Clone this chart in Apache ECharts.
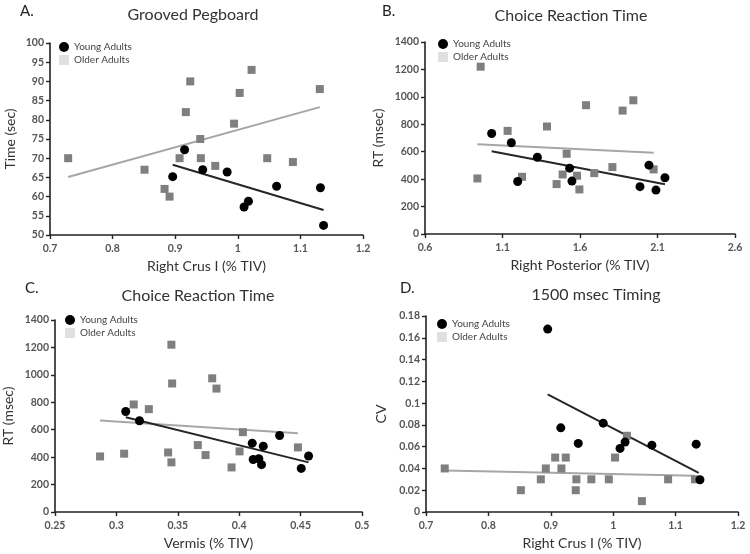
<!DOCTYPE html>
<html>
<head>
<meta charset="utf-8">
<script src="https://cdn.jsdelivr.net/npm/echarts@6/dist/echarts.min.js"></script>
<style>html,body{margin:0;padding:0;background:#fff}#c{width:750px;height:554px}</style>
</head>
<body>
<div id="c"></div>
<script>
// Panel A: Grooved Pegboard vs Right Crus I
const aYoung = [[0.896,65.2],[0.915,72.2],[0.944,67],[0.983,66.4],[1.010,57.3],[1.017,58.8],[1.062,62.7],[1.132,62.3],[1.137,52.5]];
const aOlder = [[0.729,70],[0.851,67],[0.883,62],[0.891,60],[0.907,70],[0.917,82],[0.924,90],[0.940,75],[0.941,70],[0.964,68],[0.994,79],[1.003,87],[1.022,93],[1.047,70],[1.088,69],[1.131,88]];
const aYoungFit = [[0.896,68.3],[1.137,56.5]];
const aOlderFit = [[0.729,65.1],[1.131,83.3]];

// Panel B: Choice RT vs Right Posterior
const bYoung = [[1.030,733],[1.157,665],[1.198,383],[1.325,560],[1.533,480],[1.548,386],[1.987,345],[2.045,502],[2.090,320],[2.148,410]];
const bOlder = [[0.959,1220],[0.938,405],[1.133,752],[1.226,417],[1.387,784],[1.449,364],[1.488,434],[1.514,585],[1.581,425],[1.596,325],[1.639,939],[1.692,444],[1.809,488],[1.875,900],[1.944,975],[2.075,471]];
const bYoungFit = [[1.030,604],[2.148,362]];
const bOlderFit = [[0.938,655],[2.075,592]];

// Panel C: Choice RT vs Vermis
const cYoung = [[0.3076,733],[0.3188,665],[0.4106,502],[0.4114,383],[0.416,388],[0.4182,345],[0.4196,480],[0.4329,558],[0.4505,318],[0.4565,408]];
const cOlder = [[0.2867,405],[0.3063,425],[0.3141,784],[0.3264,750],[0.3421,434],[0.3448,362],[0.3448,1220],[0.3454,937],[0.3663,488],[0.3726,415],[0.378,975],[0.3815,900],[0.3938,325],[0.4003,442],[0.403,582],[0.4478,471]];
const cYoungFit = [[0.3076,691],[0.4565,362]];
const cOlderFit = [[0.2867,667],[0.4478,575]];

// Panel D: 1500 msec Timing CV vs Right Crus I
const dYoung = [[0.895,0.168],[0.916,0.0773],[0.944,0.063],[0.984,0.0816],[1.011,0.0584],[1.019,0.0642],[1.062,0.0614],[1.133,0.0623],[1.139,0.0296]];
const dOlder = [[0.730,0.04],[0.852,0.02],[0.884,0.03],[0.892,0.04],[0.907,0.05],[0.917,0.04],[0.924,0.05],[0.941,0.03],[0.940,0.02],[0.965,0.03],[0.993,0.03],[1.003,0.05],[1.022,0.07],[1.046,0.01],[1.088,0.03],[1.131,0.03]];
const dYoungFit = [[0.895,0.108],[1.137,0.036]];
const dOlderFit = [[0.730,0.0382],[1.131,0.0333]];

const titles = ['Grooved Pegboard','Choice Reaction Time','Choice Reaction Time','1500 msec Timing'];
const panelLabels = ['A.','B.','C.','D.'];
const xNames = ['Right Crus I (% TIV)','Right Posterior (% TIV)','Vermis (% TIV)','Right Crus I (% TIV)'];
const yNames = ['Time (sec)','RT (msec)','RT (msec)','CV'];
const xRanges = [[0.7,1.2,0.1],[0.6,2.6,0.5],[0.25,0.5,0.05],[0.7,1.2,0.1]];
const yRanges = [[50,100,5],[0,1400,200],[0,1400,200],[0,0.18,0.02]];

const FONT = 'Lato, "Open Sans", sans-serif';
const grids = [
  {left:50, right:387, top:43, bottom:319},
  {left:425, right:15, top:42, bottom:320},
  {left:55, right:388, top:320, bottom:42},
  {left:426, right:12, top:316, bottom:42}
];
const yNameGaps = [33, 40, 40, 38];
const titlePos = [[193,15],[571,16],[198,296],[596,295]];
const labelPos = [[20,12],[382,12],[25,289],[400,289]];
const legendPos = [[54,37],[433,34],[60,310],[432,314]];

const youngSets = [aYoung,bYoung,cYoung,dYoung];
const olderSets = [aOlder,bOlder,cOlder,dOlder];
const youngFits = [aYoungFit,bYoungFit,cYoungFit,dYoungFit];
const olderFits = [aOlderFit,bOlderFit,cOlderFit,dOlderFit];

const fmt = v => String(+v.toFixed(4));
const axisLine = {show:true, lineStyle:{color:'#222', width:1.6}};
const axisTick = {show:true, length:4, lineStyle:{color:'#222', width:1.4}};
const axisLabel = {color:'#555', fontSize:10.5, fontFamily:FONT, fontWeight:'bold', formatter:fmt};

const xAxis = [], yAxis = [], series = [], graphic = [], legend = [];
for (let i = 0; i < 4; i++) {
  xAxis.push({type:'value', gridIndex:i, min:xRanges[i][0], max:xRanges[i][1], interval:xRanges[i][2],
    splitLine:{show:false}, axisLine, axisTick, axisLabel:Object.assign({margin:8}, axisLabel),
    name:xNames[i], nameLocation:'middle', nameGap:24,
    nameTextStyle:{color:'#333', fontSize:14, fontFamily:FONT}});
  yAxis.push({type:'value', gridIndex:i, min:yRanges[i][0], max:yRanges[i][1], interval:yRanges[i][2],
    splitLine:{show:false}, axisLine, axisTick, axisLabel:Object.assign({margin:6}, axisLabel),
    name:yNames[i], nameLocation:'middle', nameGap:yNameGaps[i],
    nameTextStyle:{color:'#333', fontSize:14, fontFamily:FONT}});
  series.push({type:'line', xAxisIndex:i, yAxisIndex:i, data:olderFits[i], showSymbol:false, symbol:'none',
    lineStyle:{color:'#a6a6a6', width:2}, silent:true, z:1});
  series.push({type:'line', xAxisIndex:i, yAxisIndex:i, data:youngFits[i], showSymbol:false, symbol:'none',
    lineStyle:{color:'#262626', width:2}, silent:true, z:1});
  series.push({name:'Older Adults', type:'scatter', xAxisIndex:i, yAxisIndex:i, data:olderSets[i],
    symbol:'rect', symbolSize:8, itemStyle:{color:'#7f7f7f', opacity:1}, z:2});
  series.push({name:'Young Adults', type:'scatter', xAxisIndex:i, yAxisIndex:i, data:youngSets[i],
    symbol:'circle', symbolSize:9, itemStyle:{color:'#000', opacity:1}, z:3});
  graphic.push({type:'text', left:labelPos[i][0], top:labelPos[i][1]-8,
    style:{text:panelLabels[i], fill:'#222', font:'15px ' + FONT}});
  graphic.push({type:'text', x:titlePos[i][0], y:titlePos[i][1],
    style:{text:titles[i], fill:'#333', font:'16px ' + FONT, textAlign:'center', textVerticalAlign:'middle'}});
  legend.push({left:legendPos[i][0], top:legendPos[i][1], orient:'vertical', itemWidth:10, itemHeight:10, itemGap:3,
    selectedMode:false,
    textStyle:{color:'#444', fontSize:10, fontFamily:FONT},
    data:[{name:'Young Adults', icon:'circle', itemStyle:{color:'#000'}},
          {name:'Older Adults', icon:'rect', itemStyle:{color:'#e0e0e0'}}]});
}

const chart = echarts.init(document.getElementById('c'), null, {renderer:'canvas'});
chart.setOption({
  backgroundColor:'#fff',
  animation:false,
  grid:grids,
  xAxis, yAxis, series, graphic, legend
});
</script>
</body>
</html>
